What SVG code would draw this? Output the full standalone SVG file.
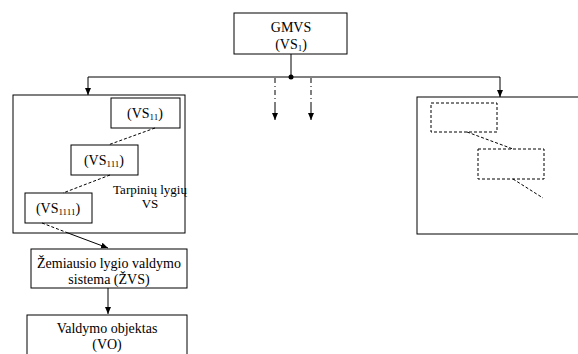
<svg xmlns="http://www.w3.org/2000/svg" width="578" height="354" viewBox="0 0 578 354">
<style>
.box{fill:#fff;stroke:#000;stroke-width:1}
.cbox{fill:none;stroke:#000;stroke-width:1}
.dbox{fill:none;stroke:#000;stroke-width:1;stroke-dasharray:3,2}
.ln{fill:none;stroke:#000;stroke-width:1}
.dl{fill:none;stroke:#000;stroke-width:1;stroke-dasharray:3,2}
.dd{fill:none;stroke:#000;stroke-width:1;stroke-dasharray:5,3,1,3}
text{font-family:"Liberation Serif","Times New Roman",serif;font-size:14px;fill:#000;text-anchor:middle}
.sub{font-size:9px}
</style>
<defs>
<marker id="ah" markerWidth="8" markerHeight="8" refX="7" refY="4" orient="auto" markerUnits="userSpaceOnUse">
<path d="M0,1 L7,4 L0,7 Z" fill="#000"/>
</marker>
</defs>
<g id="gmvs">
<rect class="box" x="234" y="13" width="113" height="41"/>
<text x="291" y="32">GMVS</text>
<text x="291" y="49">(VS<tspan class="sub" dy="2">1</tspan><tspan dy="-2">)</tspan></text>
</g>
<g id="left-group">
<rect class="cbox" x="13" y="95" width="172" height="138"/>
<text x="150" y="194" style="font-size:13px">Tarpinių lygių</text>
<text x="150" y="208" style="font-size:13px">VS</text>
</g>
<g id="vs11">
<rect class="box" x="111" y="98" width="69" height="30"/>
<text x="145" y="118">(VS<tspan class="sub" dy="2">11</tspan><tspan dy="-2">)</tspan></text>
</g>
<g id="vs111">
<rect class="box" x="71" y="145" width="67" height="30"/>
<text x="104" y="165">(VS<tspan class="sub" dy="2">111</tspan><tspan dy="-2">)</tspan></text>
</g>
<g id="vs1111">
<rect class="box" x="25" y="193" width="67" height="30"/>
<text x="58" y="213">(VS<tspan class="sub" dy="2">1111</tspan><tspan dy="-2">)</tspan></text>
</g>
<g id="right-group">
<rect class="cbox" x="417" y="97" width="170" height="137"/>
<rect class="dbox" x="431" y="103" width="66" height="29"/>
<rect class="dbox" x="478" y="149" width="66" height="30"/>
</g>
<g id="zvs">
<rect class="box" x="31" y="249" width="156" height="39"/>
<text x="109" y="268">Žemiausio lygio valdymo</text>
<text x="109" y="284">sistema (ŽVS)</text>
</g>
<g id="vo">
<rect class="box" x="27" y="315" width="160" height="50"/>
<text x="107" y="333">Valdymo objektas</text>
<text x="107" y="349">(VO)</text>
</g>
<g id="connectors">
<line class="ln" x1="291" y1="54" x2="291" y2="77"/>
<polyline class="ln" points="88,77 500,77"/>
<circle cx="291" cy="77" r="2.5" fill="#000"/>
<line class="ln" x1="88" y1="77" x2="88" y2="95" marker-end="url(#ah)"/>
<line class="ln" x1="500" y1="77" x2="500" y2="97" marker-end="url(#ah)"/>
<line class="dd" x1="275" y1="78" x2="275" y2="104"/>
<line class="ln" x1="275" y1="104" x2="275" y2="120" marker-end="url(#ah)"/>
<line class="dd" x1="311" y1="78" x2="311" y2="104"/>
<line class="ln" x1="311" y1="104" x2="311" y2="120" marker-end="url(#ah)"/>
<line class="dl" x1="155" y1="128" x2="108" y2="145"/>
<line class="dl" x1="110" y1="175" x2="63" y2="193"/>
<line class="dl" x1="42" y1="223" x2="68" y2="233"/>
<line class="ln" x1="68" y1="233" x2="108" y2="248" marker-end="url(#ah)"/>
<line class="ln" x1="108" y1="288" x2="108" y2="314" marker-end="url(#ah)"/>
<line class="dl" x1="467" y1="132" x2="513" y2="149"/>
<line class="dl" x1="513" y1="179" x2="543" y2="198"/>
</g>
</svg>
